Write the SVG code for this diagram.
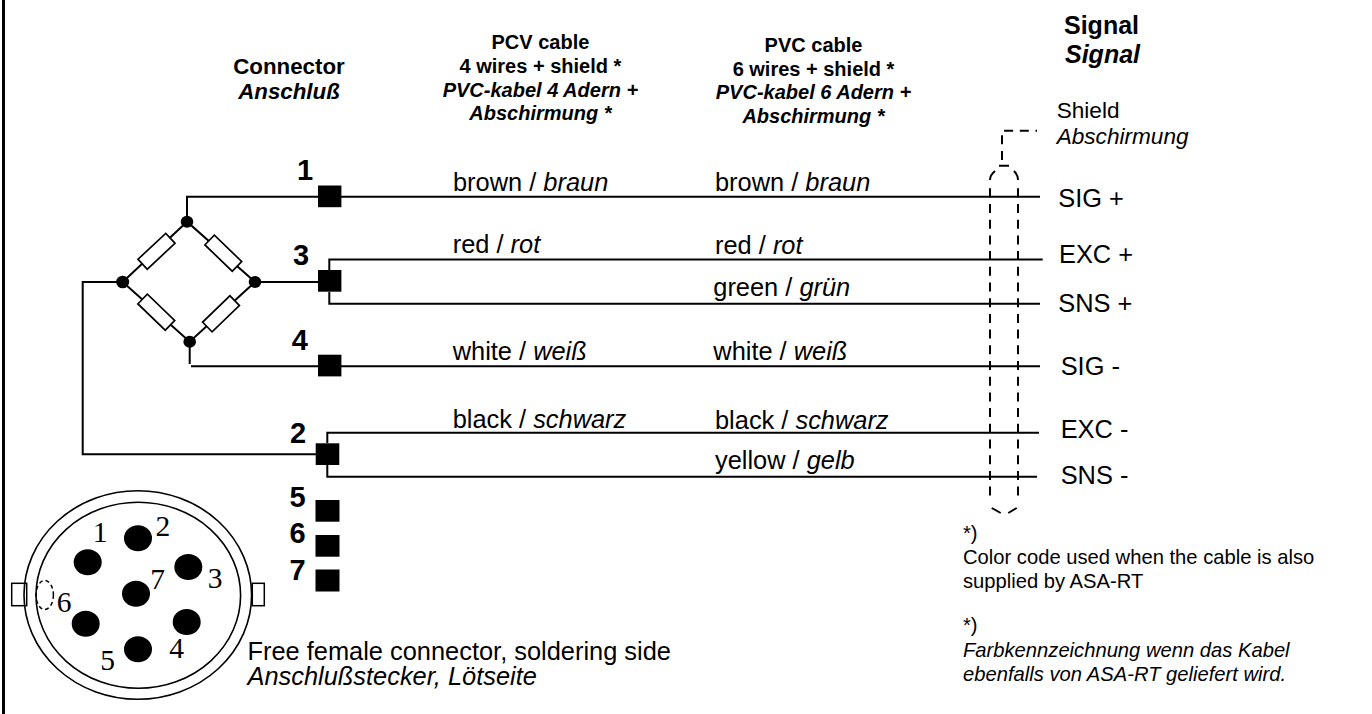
<svg xmlns="http://www.w3.org/2000/svg" width="1372" height="714" viewBox="0 0 1372 714">
<style>
text{font-family:"Liberation Sans",Arial,sans-serif;fill:#000}
.i{font-style:italic}
.h{font-weight:bold;font-size:20px;text-anchor:middle}
.c{font-weight:bold;font-size:22.3px;text-anchor:middle}
.g{font-weight:bold;font-size:25px}
.n{font-weight:bold;font-size:29px}
.w{font-size:25.4px}
.s{font-size:22.6px}
.f{font-size:20.2px}
.p{font-family:"Liberation Serif",serif;font-size:29.5px;text-anchor:middle}
.wire{fill:none;stroke:#000;stroke-width:2}
.thin{fill:none;stroke:#000;stroke-width:1.6}
.dash{fill:none;stroke:#000;stroke-width:2;stroke-dasharray:9 6.7}
.solid{fill:none;stroke:#000;stroke-width:2}
.res{fill:#fff;stroke:#000;stroke-width:1.7}
.sq{fill:#000}
</style>
<rect x="2" y="0" width="3" height="714" fill="#000"/>
<g id="connectors">
<path class="wire" d="M186 196.7H1040M187 196.7V221"/>
<path class="wire" d="M122.7 282H82.7V454.3H316"/>
<path class="wire" d="M255 282H318"/>
<path class="wire" d="M329.3 270V259.5H1042.7M329.3 292V303.7H1040"/>
<path class="wire" d="M189.7 341.7V364M191 366.2H1040"/>
<path class="wire" d="M327.3 443V432.7H1039M327.3 465V476.8H1037"/>
<path class="wire" d="M187 221.7L122.7 282L189.7 341.7L255 282Z"/>
<g id="shield">
<path class="dash" d="M1002 160V130.7H1037"/>
<path class="dash" d="M990 188.3V500M1018 188.3V500"/>
<path class="solid" d="M990 180Q990 175 995 171M999 165.7H1009M1014 171Q1018 175 1018 180M991.7 508L1000.7 513M1008.3 513L1016.7 508"/>
</g>
</g>
<g id="bridge">
<rect class="res" x="-19" y="-6.8" width="38" height="13.6" transform="translate(156.5 251.3) rotate(-43)"/>
<rect class="res" x="-19" y="-6.8" width="38" height="13.6" transform="translate(223.3 253.2) rotate(44)"/>
<rect class="res" x="-19" y="-6.8" width="38" height="13.6" transform="translate(156.3 312.2) rotate(44)"/>
<rect class="res" x="-19" y="-6.8" width="38" height="13.6" transform="translate(221 313.8) rotate(-44)"/>
<ellipse cx="187" cy="221.7" rx="6.3" ry="6"/>
<ellipse cx="255" cy="282" rx="6.3" ry="6"/>
<ellipse cx="122.7" cy="282" rx="6.5" ry="6.3"/>
<ellipse cx="189.7" cy="341.7" rx="6.3" ry="6"/>
</g>
<g id="terminals">
<rect class="sq" x="318" y="185.5" width="23.4" height="21.7"/>
<rect class="sq" x="318" y="270" width="23.4" height="21.7"/>
<rect class="sq" x="318" y="354.7" width="23.4" height="21.7"/>
<rect class="sq" x="315.7" y="443.3" width="23.6" height="21.7"/>
<rect class="sq" x="315.5" y="500" width="24" height="21.7"/>
<rect class="sq" x="315.5" y="535" width="24" height="21.7"/>
<rect class="sq" x="315.5" y="569.5" width="24" height="22"/>
<text class="n" x="297" y="180">1</text>
<text class="n" x="293" y="265">3</text>
<text class="n" x="291.7" y="350">4</text>
<text class="n" x="290" y="442.7">2</text>
<text class="n" x="289.5" y="506.7">5</text>
<text class="n" x="289.5" y="543">6</text>
<text class="n" x="289.5" y="580">7</text>
</g>
<g id="plug">
<rect x="11.7" y="583.3" width="15" height="22.4" fill="#fff" stroke="#000" stroke-width="1.5"/>
<rect x="252.3" y="583.3" width="12" height="22.4" fill="#fff" stroke="#000" stroke-width="1.5"/>
<ellipse class="thin" cx="137.8" cy="595" rx="113.8" ry="104.3"/>
<ellipse class="thin" cx="138.3" cy="595.3" rx="102.3" ry="93"/>
<ellipse cx="87.7" cy="562.3" rx="14" ry="13"/>
<ellipse cx="138" cy="538.3" rx="14" ry="13"/>
<ellipse cx="188.3" cy="567" rx="14" ry="13"/>
<ellipse cx="186.7" cy="622" rx="14" ry="13"/>
<ellipse cx="138" cy="649.3" rx="14" ry="13"/>
<ellipse cx="85.7" cy="623.7" rx="14" ry="13"/>
<ellipse cx="136" cy="593.7" rx="14" ry="13"/>
<ellipse cx="44.7" cy="595" rx="8.7" ry="14.5" fill="none" stroke="#000" stroke-width="1.5" stroke-dasharray="4 3"/>
<text class="p" x="100" y="542.3">1</text>
<text class="p" x="162.8" y="536">2</text>
<text class="p" x="215" y="588">3</text>
<text class="p" x="176.7" y="658">4</text>
<text class="p" x="107.7" y="670">5</text>
<text class="p" x="64" y="611.7">6</text>
<text class="p" x="157.7" y="589.3">7</text>
<text class="w" x="247.5" y="660">Free female connector, soldering side</text>
<text class="w i" x="247.5" y="685">Anschlußstecker, Lötseite</text>
</g>
<g id="headers">
<text class="c" x="289" y="74">Connector</text>
<text class="c i" x="289" y="99">Anschluß</text>
<text class="h" x="540.4" y="49.3">PCV cable</text>
<text class="h" x="540.4" y="73.3">4 wires + shield *</text>
<text class="h i" x="540.4" y="96.7">PVC-kabel 4 Adern +</text>
<text class="h i" x="540.4" y="120">Abschirmung *</text>
<text class="h" x="813.5" y="52">PVC cable</text>
<text class="h" x="813.5" y="75.5">6 wires + shield *</text>
<text class="h i" x="813.5" y="99">PVC-kabel 6 Adern +</text>
<text class="h i" x="813.5" y="122.5">Abschirmung *</text>
<text class="g" x="1064" y="34.3">Signal</text>
<text class="g i" x="1065" y="63.3">Signal</text>
</g>
<g id="wire-labels">
<text class="w" x="453" y="191">brown / <tspan class="i">braun</tspan></text>
<text class="w" x="715" y="191">brown / <tspan class="i">braun</tspan></text>
<text class="w" x="452.7" y="252.7">red / <tspan class="i">rot</tspan></text>
<text class="w" x="715" y="254.3">red / <tspan class="i">rot</tspan></text>
<text class="w" x="713.3" y="296">green / <tspan class="i">grün</tspan></text>
<text class="w" x="452.7" y="360">white / <tspan class="i">weiß</tspan></text>
<text class="w" x="713.3" y="360">white / <tspan class="i">weiß</tspan></text>
<text class="w" x="452.7" y="427.7">black / <tspan class="i">schwarz</tspan></text>
<text class="w" x="715" y="429.3">black / <tspan class="i">schwarz</tspan></text>
<text class="w" x="715" y="469.3">yellow / <tspan class="i">gelb</tspan></text>
</g>
<g id="signals">
<text class="s" x="1056.7" y="117.7">Shield</text>
<text class="s i" x="1056.7" y="144.3">Abschirmung</text>
<text class="w" x="1058.3" y="206.7">SIG +</text>
<text class="w" x="1059" y="263.3">EXC +</text>
<text class="w" x="1058.3" y="311.7">SNS +</text>
<text class="w" x="1060.7" y="375">SIG -</text>
<text class="w" x="1060.7" y="438.3">EXC -</text>
<text class="w" x="1060.7" y="484.3">SNS -</text>
</g>
<g id="notes">
<text class="f" x="963" y="540">*)</text>
<text class="f" x="963" y="564">Color code used when the cable is also</text>
<text class="f" x="963" y="588">supplied by ASA-RT</text>
<text class="f" x="963" y="632">*)</text>
<text class="f i" x="963" y="656.7">Farbkennzeichnung wenn das Kabel</text>
<text class="f i" x="963" y="680.7">ebenfalls von ASA-RT geliefert wird.</text>
</g>
</svg>
